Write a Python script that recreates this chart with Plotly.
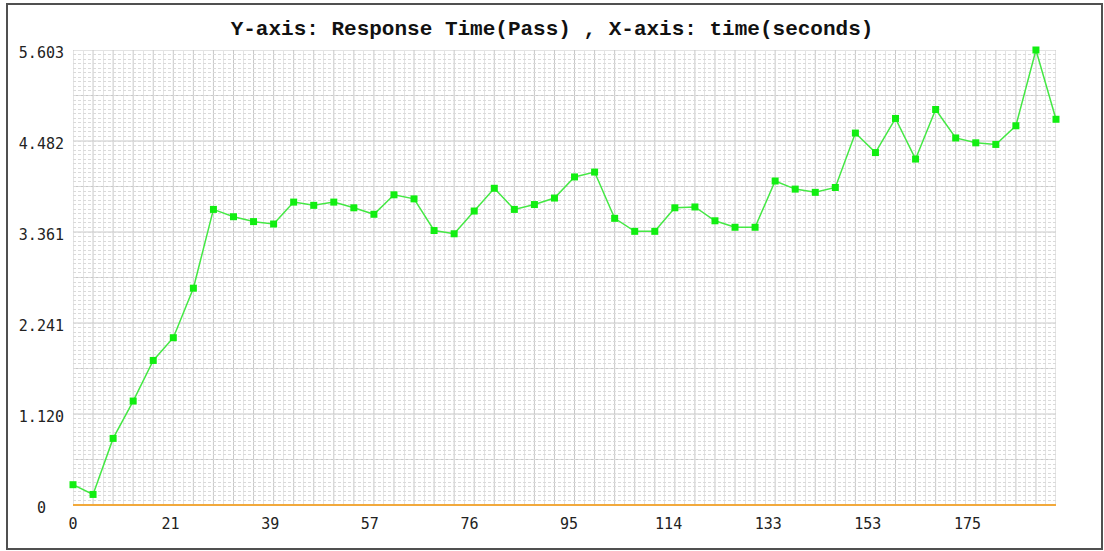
import plotly.graph_objects as go

# sample number (one point every ~20 px) and response time in seconds
sample = list(range(50))
response_time = [0.25, 0.13, 0.82, 1.28, 1.78, 2.06, 2.67, 3.64, 3.55, 3.49,
                 3.46, 3.73, 3.69, 3.73, 3.66, 3.58, 3.82, 3.77, 3.38, 3.34,
                 3.62, 3.90, 3.64, 3.70, 3.78, 4.04, 4.10, 3.53, 3.37, 3.37,
                 3.66, 3.67, 3.50, 3.42, 3.42, 3.99, 3.89, 3.85, 3.91, 4.58,
                 4.34, 4.76, 4.26, 4.87, 4.52, 4.46, 4.44, 4.67, 5.603, 4.75]

time_labels = ["0", "21", "39", "57", "76", "95", "114", "133", "153", "175"]
y_ticks = [0, 1.120, 2.241, 3.361, 4.482, 5.603]
y_labels = ["0", "1.120", "2.241", "3.361", "4.482", "5.603"]

W, H = 1104, 551
L, R, T, B = 73, 48, 50, 46
plot_w = W - L - R
plot_h = H - T - B

# pad labels with nbsp so they sit centred in a monospace column
width = max(len(s) for s in y_labels)
def center(s):
    pad = width - len(s)
    return "\u00a0" * (pad // 2) + s + "\u00a0" * (pad - pad // 2)

fig = go.Figure()
fig.add_trace(go.Scatter(
    x=sample, y=response_time, mode="lines+markers",
    line=dict(color="#44e844", width=1.5),
    marker=dict(symbol="square", size=7, color="#11ee11"),
    cliponaxis=False, showlegend=False, hoverinfo="skip",
))

tick_font = dict(family="DejaVu Sans Mono", size=15, color="#222222")

fig.update_xaxes(
    range=[0, 49],
    tickmode="array",
    tickvals=[max(0, -0.1 + 4.965 * k) for k in range(len(time_labels))],
    ticktext=time_labels,
    tickfont=tick_font,
    showgrid=False,
    minor=dict(tick0=0.5, dtick=1, showgrid=True, gridcolor="#e4e4e4", gridwidth=1),
    zeroline=False, showline=False, ticks="", ticklabelstandoff=8,
)
fig.update_yaxes(
    range=[0, 5.603],
    tickmode="array",
    tickvals=y_ticks,
    ticktext=[center(s) for s in y_labels],
    tickfont=tick_font,
    showgrid=False,
    minor=dict(tick0=0, dtick=5.603 / 100, showgrid=True, gridcolor="#dadada",
               gridwidth=1, griddash="3px,2px"),
    zeroline=False, showline=False, ticks="", ticklabelstandoff=8,
    ticklabelshift=3,
)

shapes = []
# solid vertical grid line at every sample
for i in sample:
    shapes.append(dict(type="line", xref="x", yref="paper", x0=i, x1=i, y0=0, y1=1,
                       line=dict(color="#c8c8c8", width=1), layer="between"))
# major horizontal grid lines (half of label spacing)
for k in range(11):
    v = 5.603 * k / 10
    shapes.append(dict(type="line", xref="paper", yref="y", x0=0, x1=1, y0=v, y1=v,
                       line=dict(color="#c8c8c8", width=1), layer="between"))
# orange bottom axis
shapes.append(dict(type="line", xref="paper", yref="paper", x0=0, x1=1, y0=0, y1=0,
                   line=dict(color="#f2a93b", width=2), layer="above"))
# outer frame of the picture
def px_x(p):
    return (p - L) / plot_w
def px_y(p):
    return (T + plot_h - p) / plot_h
shapes.append(dict(type="rect", xref="paper", yref="paper",
                   x0=px_x(7), x1=px_x(1102), y0=px_y(549), y1=px_y(4),
                   line=dict(color="#505050", width=2)))

fig.update_layout(
    width=W, height=H,
    margin=dict(l=L, r=R, t=T, b=B),
    paper_bgcolor="white", plot_bgcolor="white",
    title=dict(text="<b>Y-axis: Response Time(Pass) , X-axis: time(seconds)</b>",
               font=dict(family="Liberation Mono", size=21, color="#111111"),
               x=0.5, xref="container", xanchor="center",
               y=1 - 28 / H, yref="container", yanchor="middle"),
    shapes=shapes,
)

fig.write_html("out.html", config={"displayModeBar": False},
               post_script="document.body.style.margin='0';")
